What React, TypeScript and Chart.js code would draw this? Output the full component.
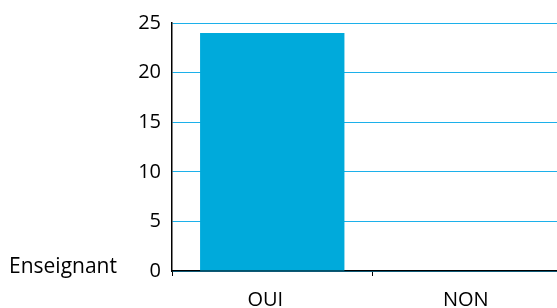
import React, { useEffect, useRef } from "react";
import { Chart, registerables } from "chart.js";

Chart.register(...registerables);

const categories = ["OUI", "NON"];
const seriesName = "Enseignant";
const values = [24, 0];
const yTicks = [0, 5, 10, 15, 20, 25];

const FONT = "'Open Sans', 'DejaVu Sans', sans-serif";

const sideLabel = {
  id: "sideLabel",
  afterDraw(chart: any) {
    const ctx = chart.ctx;
    const y = chart.scales.y.getPixelForValue(yTicks[0]);
    ctx.save();
    ctx.font = `21px ${FONT}`;
    ctx.fillStyle = "#000";
    ctx.textAlign = "left";
    ctx.textBaseline = "alphabetic";
    ctx.fillText(seriesName, 9, y + 2);
    ctx.restore();
  },
};

export default function App() {
  const ref = useRef<HTMLCanvasElement>(null);
  useEffect(() => {
    if (!ref.current) return;
    const chart = new Chart(ref.current, {
      type: "bar",
      data: {
        labels: categories,
        datasets: [
          {
            label: seriesName,
            data: values,
            backgroundColor: "#00aadb",
            borderWidth: 0,
            barPercentage: 0.72,
            categoryPercentage: 1,
          },
        ],
      },
      options: {
        responsive: false,
        animation: false,
        devicePixelRatio: 1,
        layout: { padding: { top: 22, right: 7, left: 0, bottom: 0 } },
        plugins: { legend: { display: false }, tooltip: { enabled: false } },
        scales: {
          x: {
            offset: true,
            grid: {
              display: true,
              offset: true,
              drawOnChartArea: false,
              drawTicks: true,
              tickLength: 5,
              color: "#000",
            },
            border: { display: true, color: "#000", width: 1.5 },
            ticks: {
              color: "#000",
              font: { family: FONT, size: 20 },
              padding: 12,
              labelOffset: -7,
            },
            afterFit(scale: any) {
              scale.height = 37;
            },
          },
          y: {
            min: 0,
            max: 25,
            afterBuildTicks(scale: any) {
              scale.ticks = yTicks.map((v) => ({ value: v }));
            },
            grid: {
              color: "#1cb0ea",
              lineWidth: 1,
              drawTicks: false,
            },
            border: { display: true, color: "#000", width: 1.5 },
            ticks: {
              color: "#000",
              font: { family: FONT, size: 20 },
              padding: 11,
            },
            afterFit(scale: any) {
              scale.width = 172;
            },
          },
        },
      },
      plugins: [sideLabel],
    });
    return () => chart.destroy();
  }, []);
  return (
    <div
      style={{
        position: "fixed",
        left: 0,
        top: 0,
        width: 557,
        height: 308,
        overflow: "hidden",
        background: "#fff",
      }}
    >
      <canvas ref={ref} width={580} height={308} style={{ display: "block" }} />
    </div>
  );
}
